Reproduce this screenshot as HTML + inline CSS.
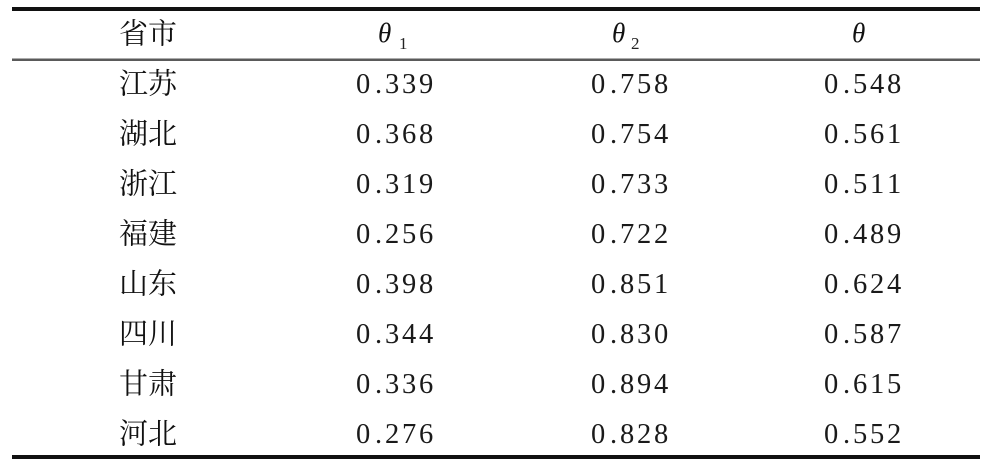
<!DOCTYPE html>
<html><head><meta charset="utf-8"><style>
html,body{margin:0;padding:0;background:#fff;}
svg{display:block;}
.cn{font-family:"Noto Serif CJK SC","Noto Serif CJK JP",serif;font-size:29px;fill:#111;}
.num{font-family:"Liberation Serif",serif;font-size:28.5px;fill:#1a1a1a;}
.th{font-family:"Liberation Serif",serif;font-style:italic;font-size:27px;fill:#111;}
.sub{font-family:"Liberation Serif",serif;font-size:17px;fill:#222;}
</style></head><body>
<svg width="992" height="464" viewBox="0 0 992 464" xmlns="http://www.w3.org/2000/svg">
<rect x="0" y="0" width="992" height="464" fill="#fff"/>
<rect x="12" y="7" width="968" height="4" fill="#111"/>
<rect x="12" y="58.5" width="968" height="2.5" fill="#5a5a5a"/>
<rect x="12" y="455" width="968" height="4" fill="#111"/>

<text class="cn" x="148" y="43.5" text-anchor="middle">省市</text>
<text class="th" x="378" y="42">θ</text><text class="sub" x="399" y="49">1</text>
<text class="th" x="612" y="42">θ</text><text class="sub" x="631" y="49">2</text>
<text class="th" x="852" y="42">θ</text>

<g class="cn" text-anchor="middle">
<text x="148" y="93.5">江苏</text>
<text x="148" y="143.5">湖北</text>
<text x="148" y="193.5">浙江</text>
<text x="148" y="243.5">福建</text>
<text x="148" y="293.5">山东</text>
<text x="148" y="343.5">四川</text>
<text x="148" y="393.5">甘肃</text>
<text x="148" y="443.5">河北</text>
</g>
<g class="num">
<text x="356 375 385 402 419" y="93">0.339</text><text x="591 610 620 637 654" y="93">0.758</text><text x="824 843 853 870 887" y="93">0.548</text>
<text x="356 375 385 402 419" y="143">0.368</text><text x="591 610 620 637 654" y="143">0.754</text><text x="824 843 853 870 887" y="143">0.561</text>
<text x="356 375 385 402 419" y="193">0.319</text><text x="591 610 620 637 654" y="193">0.733</text><text x="824 843 853 870 887" y="193">0.511</text>
<text x="356 375 385 402 419" y="243">0.256</text><text x="591 610 620 637 654" y="243">0.722</text><text x="824 843 853 870 887" y="243">0.489</text>
<text x="356 375 385 402 419" y="293">0.398</text><text x="591 610 620 637 654" y="293">0.851</text><text x="824 843 853 870 887" y="293">0.624</text>
<text x="356 375 385 402 419" y="343">0.344</text><text x="591 610 620 637 654" y="343">0.830</text><text x="824 843 853 870 887" y="343">0.587</text>
<text x="356 375 385 402 419" y="393">0.336</text><text x="591 610 620 637 654" y="393">0.894</text><text x="824 843 853 870 887" y="393">0.615</text>
<text x="356 375 385 402 419" y="443">0.276</text><text x="591 610 620 637 654" y="443">0.828</text><text x="824 843 853 870 887" y="443">0.552</text>
</g>
</svg>
</body></html>
